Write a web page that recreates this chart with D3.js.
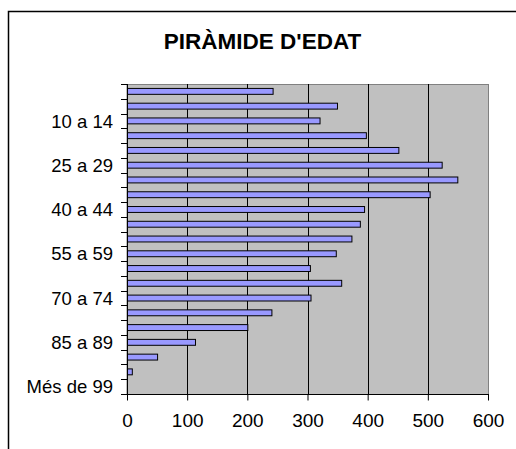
<!DOCTYPE html>
<html>
<head>
<meta charset="utf-8">
<script src="https://cdn.jsdelivr.net/npm/d3@7"></script>
<style>
  body { margin: 0; background: #fff; }
  svg { display: block; font-family: "Liberation Sans", Arial, sans-serif; }
</style>
</head>
<body>
<div id="chart"></div>
<script>
// Chart object for storing all methods
APP = {};

/*****
Data of the chart
*****/
const categories = ["0 a 4", "5 a 9", "10 a 14", "15 a 19", "20 a 24", "25 a 29", "30 a 34",
  "35 a 39", "40 a 44", "45 a 49", "50 a 54", "55 a 59", "60 a 64", "65 a 69", "70 a 74",
  "75 a 79", "80 a 84", "85 a 89", "90 a 94", "95 a 99", "Més de 99"];
const population = [242, 349, 320, 397, 451, 523, 549, 503, 394, 387, 373, 347, 304, 356,
  305, 240, 200, 113, 50, 8, 0];
const shownLabels = ["10 a 14", "25 a 29", "40 a 44", "55 a 59", "70 a 74", "85 a 89", "Més de 99"];
const xTicks = [0, 100, 200, 300, 400, 500, 600];
const title = "PIRÀMIDE D'EDAT";

/*****
Global variables
*****/
let width = 516, height = 449;
let plot = {left: 127, right: 488, top: 84, bottom: 394};
let svg, x, y;

APP.main = function(){
    svg = d3.select("#chart").append("svg")
        .attr("width", width)
        .attr("height", height);
    APP.initScales();
    APP.drawFrame();
    APP.drawAxes();
    APP.drawBars();
};

APP.initScales = function(){
    x = d3.scaleLinear().domain([0, 600]).range([plot.left, plot.right]);
    // gap width 150% like the spreadsheet default
    y = d3.scaleBand().domain(categories).range([plot.top, plot.bottom])
        .paddingInner(0.6).paddingOuter(0.3);
};

APP.drawFrame = function(){
    // chart area border (cropped on right and bottom)
    svg.append("rect")
        .attr("x", 8.5).attr("y", 11.5)
        .attr("width", 560).attr("height", 480)
        .attr("fill", "#fff")
        .attr("stroke", "#000")
        .attr("stroke-width", 1.5);

    svg.append("text")
        .attr("x", 262.5).attr("y", 49)
        .attr("text-anchor", "middle")
        .style("font-size", "22.5px")
        .style("font-weight", "bold")
        .text(title);

    // plot area
    svg.append("rect")
        .attr("x", plot.left).attr("y", plot.top + 0.5)
        .attr("width", plot.right - plot.left + 0.5)
        .attr("height", plot.bottom - plot.top)
        .attr("fill", "#c0c0c0")
        .attr("stroke", "#808080")
        .attr("stroke-width", 1);

    // vertical gridlines
    svg.append("g").selectAll("line")
        .data(xTicks.filter(d => d > 0 && d < 600))
        .enter().append("line")
        .attr("x1", d => Math.round(x(d)) + 0.5).attr("x2", d => Math.round(x(d)) + 0.5)
        .attr("y1", plot.top).attr("y2", plot.bottom)
        .attr("stroke", "#000");
};

APP.drawAxes = function(){
    // value axis
    let xAxis = d3.axisBottom(x).tickValues(xTicks).tickSize(6).tickPadding(13);
    let gx = svg.append("g")
        .attr("transform", "translate(0," + (plot.bottom + 0.5) + ")")
        .call(xAxis);
    gx.select(".domain").remove();
    gx.append("line")
        .attr("x1", plot.left).attr("x2", plot.right + 1)
        .attr("stroke", "#000");
    gx.selectAll("line").attr("stroke", "#000");
    gx.selectAll("text")
        .attr("fill", "#000")
        .style("font-size", "19px")
        .style("font-family", "Liberation Sans, Arial, sans-serif");

    // category axis, ticks between categories
    let step = y.step();
    let gy = svg.append("g");
    gy.append("line")
        .attr("x1", plot.left + 0.5).attr("x2", plot.left + 0.5)
        .attr("y1", plot.top).attr("y2", plot.bottom + 1)
        .attr("stroke", "#000");
    gy.selectAll(".tick")
        .data(d3.range(categories.length + 1))
        .enter().append("line")
        .attr("x1", plot.left - 6).attr("x2", plot.left)
        .attr("y1", i => Math.round(plot.top + i * step) + 0.5)
        .attr("y2", i => Math.round(plot.top + i * step) + 0.5)
        .attr("stroke", "#000");
    gy.selectAll("text")
        .data(shownLabels)
        .enter().append("text")
        .attr("x", 113)
        .attr("y", d => y(d) + y.bandwidth() / 2)
        .attr("dy", "0.36em")
        .attr("text-anchor", "end")
        .style("font-size", "18.5px")
        .text(d => d);
};

APP.drawBars = function(){
    let rows = categories.map((c, i) => ({cat: c, val: population[i]}));
    svg.append("g").selectAll("rect")
        .data(rows.filter(d => d.val > 0))
        .enter().append("rect")
        .attr("x", x(0) + 0.5)
        .attr("y", d => y(d.cat))
        .attr("width", d => x(d.val) - x(0))
        .attr("height", y.bandwidth())
        .attr("fill", "#9999ff")
        .attr("stroke", "#000")
        .attr("stroke-width", 1);
};

APP.main();
</script>
</body>
</html>
